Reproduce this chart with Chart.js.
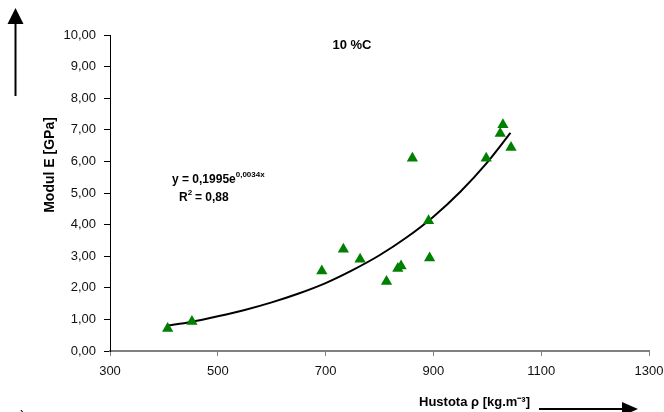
<!DOCTYPE html>
<html>
<head>
<meta charset="utf-8">
<script src="https://cdn.jsdelivr.net/npm/chart.js@4/dist/chart.umd.min.js"></script>
<style>
  html, body { margin: 0; padding: 0; background: #fff; }
  #wrap { width: 664px; height: 412px; position: relative; }
</style>
</head>
<body>
<div id="wrap"><canvas id="myChart" width="664" height="412"></canvas></div>
<script>
// measured points: density [kg.m-3] vs modulus E [GPa]
const density = [407, 452, 693, 733, 764, 813, 834, 840, 861, 891, 893, 998, 1024, 1029, 1044];
const modulus = [0.71, 0.93, 2.53, 3.22, 2.90, 2.20, 2.61, 2.69, 6.10, 4.12, 2.94, 6.10, 6.88, 7.16, 6.44];

// trend line
const trendX = [405, 450, 500, 550, 600, 650, 700, 750, 800, 850, 900, 950, 1000, 1043];
const trendY = [0.80, 0.92, 1.10, 1.30, 1.54, 1.82, 2.15, 2.56, 3.03, 3.59, 4.25, 5.04, 5.97, 6.90];

const xTicks = [300, 500, 700, 900, 1100, 1300];
const yTicks = [0, 1, 2, 3, 4, 5, 6, 7, 8, 9, 10];

const titleText = "10 %C";
const yTitle = "Modul E [GPa]";
const xTitle = "Hustota \u03c1 [kg.m\u207b\u00b3]";

const FONT = "'Liberation Sans', Arial, sans-serif";

const extras = {
  id: "extras",
  afterDraw(chart) {
    const ctx = chart.ctx;
    ctx.save();
    ctx.fillStyle = "#000";
    ctx.strokeStyle = "#000";

    // title
    ctx.font = "bold 13px " + FONT;
    ctx.textAlign = "center";
    ctx.textBaseline = "middle";
    ctx.fillText(titleText, 352, 45);

    // y title
    ctx.save();
    ctx.translate(50, 165);
    ctx.rotate(-Math.PI / 2);
    ctx.font = "bold 14px " + FONT;
    ctx.fillText(yTitle, 0, 0);
    ctx.restore();

    // x title
    ctx.font = "bold 13px " + FONT;
    ctx.textAlign = "left";
    ctx.fillText(xTitle, 419, 402);

    // equation
    ctx.font = "bold 12px " + FONT;
    let t = "y = 0,1995e";
    ctx.fillText(t, 172, 180);
    let w = ctx.measureText(t).width;
    ctx.font = "bold 8px " + FONT;
    ctx.fillText("0,0034x", 172 + w, 175);

    ctx.font = "bold 12px " + FONT;
    ctx.fillText("R", 179, 198);
    w = ctx.measureText("R").width;
    ctx.font = "bold 8px " + FONT;
    ctx.fillText("2", 179 + w, 193);
    ctx.font = "bold 12px " + FONT;
    ctx.fillText(" = 0,88", 179 + w + 4, 198);

    // "a)" label, cut at bottom
    ctx.font = "15px " + FONT;
    ctx.textBaseline = "alphabetic";
    ctx.fillText("a)", 12, 421);

    // arrows
    ctx.lineWidth = 2;
    ctx.beginPath();
    ctx.moveTo(15.5, 96);
    ctx.lineTo(15.5, 22);
    ctx.stroke();
    ctx.beginPath();
    ctx.moveTo(15.5, 8);
    ctx.lineTo(23.5, 24);
    ctx.lineTo(7.5, 24);
    ctx.closePath();
    ctx.fill();

    ctx.beginPath();
    ctx.moveTo(539, 409);
    ctx.lineTo(624, 409);
    ctx.stroke();
    ctx.beginPath();
    ctx.moveTo(638, 409);
    ctx.lineTo(622, 402);
    ctx.lineTo(622, 416);
    ctx.closePath();
    ctx.fill();

    ctx.restore();
  }
};

const pointsData = density.map((d, i) => ({ x: d, y: modulus[i] }));
const trendData = trendX.map((d, i) => ({ x: d, y: trendY[i] }));

const config = {
  type: "scatter",
  data: {
    datasets: [
      {
        label: "trend",
        data: trendData,
        showLine: true,
        borderColor: "#000",
        borderWidth: 2,
        pointRadius: 0,
        cubicInterpolationMode: "monotone",
        fill: false,
        order: 2
      },
      {
        label: "E",
        data: pointsData,
        pointStyle: "triangle",
        pointRadius: 6.5,
        backgroundColor: "#008000",
        borderColor: "#008000",
        borderWidth: 0,
        order: 1
      }
    ]
  },
  options: {
    responsive: false,
    animation: false,
    layout: { padding: { top: 35, right: 15, left: 0, bottom: 0 } },
    plugins: { legend: { display: false }, tooltip: { enabled: false } },
    scales: {
      x: {
        type: "linear",
        min: 300,
        max: 1300,
        afterBuildTicks: (s) => { s.ticks = xTicks.map(v => ({ value: v })); },
        afterFit: (s) => { s.height = 61; s.paddingRight = 0; s.paddingLeft = 0; },
        grid: { drawOnChartArea: false, drawTicks: true, tickLength: 5, color: "#808080" },
        border: { color: "#808080", width: 2 },
        ticks: {
          color: "#111",
          font: { family: FONT, size: 13 },
          padding: 8,
          maxRotation: 0,
          callback: (v) => String(v)
        }
      },
      y: {
        type: "linear",
        min: 0,
        max: 10,
        afterBuildTicks: (s) => { s.ticks = yTicks.map(v => ({ value: v })); },
        afterFit: (s) => { s.width = 110; },
        grid: { drawOnChartArea: false, drawTicks: true, tickLength: 6, color: "#000" },
        border: { color: "#000", width: 1 },
        ticks: {
          color: "#111",
          font: { family: FONT, size: 13 },
          padding: 8,
          callback: (v) => v.toFixed(2).replace(".", ",")
        }
      }
    }
  },
  plugins: [extras]
};

window.onload = () => {
  new Chart(document.getElementById("myChart"), config);
};
</script>
</body>
</html>
